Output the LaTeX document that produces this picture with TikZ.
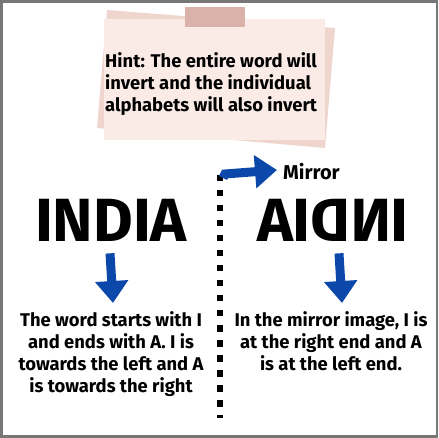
\documentclass[tikz,border=0pt]{standalone}
\usepackage{fontspec}
\setmainfont{Fira Sans}
\usetikzlibrary{arrows.meta, positioning, calc}

\begin{document}
\begin{tikzpicture}[x=1pt, y=-1pt, every node/.style={font=\bfseries\fontsize{18.4}{22}\selectfont, inner sep=0pt}]
    % Define consistent colors
    \definecolor{framecolor}{RGB}{119,119,119}
    \definecolor{notefront}{RGB}{250,235,230}
    \definecolor{noteback}{RGB}{239,213,206}
    \definecolor{tapecolor}{RGB}{219,178,170}
    \definecolor{arrowblue}{RGB}{12,72,170}
    \tikzset{
        bluearrow/.style={arrowblue, line width=9pt, -{Triangle[width=32pt, length=22pt]}},
        mirrorline/.style={line width=6.5pt, dash pattern=on 6.5pt off 8.5pt},
        bigword/.style={font=\bfseries\fontsize{61}{61}\selectfont}
    }

    % Frame
    \useasboundingbox (0,0) rectangle (439,438);
    \draw[framecolor, line width=2.5pt] (1.5,1.5) rectangle (437,436.5);

    % Sticky note
    \fill[noteback] (107,10) -- (335,28) -- (325,148) -- (97,128) -- cycle;
    \fill[notefront] (104,19) rectangle (325,140);
    \fill[tapecolor] (185,7) rectangle (245,27);
    \node[align=left, anchor=north west] (hint) at (105,52)
        {Hint: The entire word will\\invert and the individual\\alphabets will also invert};

    % Words
    \node[bigword] (word) at (111,220) {INDIA};
    \node[bigword] (mirrored) at (333,220) {\scalebox{-1}[1]{INDIA}};

    % Mirror line
    \coordinate (linetop) at (220,175);
    \coordinate (linebottom) at (220,418);
    \draw[mirrorline] (linetop) -- (linebottom);
    \node[anchor=west, font=\bfseries\fontsize{20}{22}\selectfont] (mirrorlabel) at (283,172) {Mirror};
    \draw[bluearrow] ($(linetop)+(3,3)$) -- ++(2,-4) -- ($(mirrorlabel.west)+(-6,-2)$);

    % Explanations
    \node[align=center, anchor=north] (lefttext) at (111,311)
        {The word starts with I\\and ends with A. I is\\towards the left and A\\is towards the right};
    \node[align=center, anchor=north] (righttext) at (331,311)
        {In the mirror image, I is\\at the right end and A\\is at the left end.};
    \draw[bluearrow] ($(word.south)+(-1,12)$) -- ($(lefttext.north)+(2,-8)$);
    \draw[bluearrow] ($(mirrored.south)+(6,12)$) -- ($(righttext.north)+(11,-8)$);
\end{tikzpicture}
\end{document}
